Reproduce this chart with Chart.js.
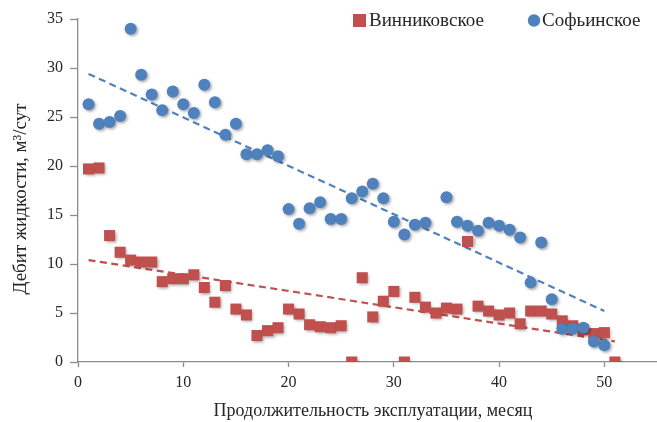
<!DOCTYPE html>
<html>
<head>
<meta charset="utf-8">
<script src="https://cdn.jsdelivr.net/npm/chart.js@4/dist/chart.umd.min.js"></script>
<style>
  html, body { margin: 0; padding: 0; background: #fff; }
  #wrap { width: 657px; height: 422px; }
</style>
</head>
<body>
<div id="wrap"><canvas id="c" width="657" height="422"></canvas></div>
<script>
// Месяцы эксплуатации и дебит жидкости, м³/сут
const vinnMonths = [1,2,3,4,5,6,7,8,9,10,11,12,13,14,15,16,17,18,19,20,21,22,23,24,25,26,27,28,29,30,31,32,33,34,35,36,37,38,39,40,41,42,43,44,45,46,47,48,49,50,51];
const vinnRates  = [19.7,19.8,12.9,11.2,10.4,10.2,10.2,8.2,8.5,8.5,8.9,7.6,6.1,7.8,5.4,4.8,2.7,3.2,3.5,5.4,4.9,3.8,3.6,3.5,3.7,0,8.6,4.6,6.2,7.2,0,6.6,5.6,5.0,5.5,5.4,12.3,5.7,5.2,4.8,5.0,3.9,5.2,5.2,4.9,4.2,3.7,3.3,2.9,3.0,0];

const sofMonths = [1,2,3,4,5,6,7,8,9,10,11,12,13,14,15,16,17,18,19,20,21,22,23,24,25,26,27,28,29,30,31,32,33,35,36,37,38,39,40,41,42,43,44,45,46,47,48,49,50];
const sofRates  = [26.3,24.3,24.5,25.1,34.0,29.3,27.3,25.7,27.6,26.3,25.4,28.3,26.5,23.2,24.3,21.2,21.2,21.6,21.0,15.6,14.1,15.7,16.3,14.6,14.6,16.7,17.4,18.2,16.7,14.3,13.0,14.0,14.2,16.8,14.3,13.9,13.4,14.2,13.9,13.5,12.7,8.1,12.2,6.4,3.4,3.4,3.5,2.1,1.7];

// Линейные тренды: начальная и конечная точки
const vinnTrendMonths = [1, 51];
const vinnTrendRates  = [10.4, 2.1];
const sofTrendMonths  = [1, 50];
const sofTrendRates   = [29.4, 5.2];

const xTicks = [0, 10, 20, 30, 40, 50];
const seriesNames = ['Винниковское', 'Софьинское'];
const xTitle = 'Продолжительность эксплуатации, месяц';
const yTitle = 'Дебит жидкости, м³/сут';

const RED = '#C0504D';
const BLUE = '#4F81BD';
const TEXT = '#262626';
const AXIS = '#8C8C8C';
const SERIF = '"Liberation Serif", "Times New Roman", serif';

const pts = (xs, ys) => xs.map((x, i) => ({ x, y: ys[i] }));

// Мягкая тень под маркерами
const markerShadow = {
  id: 'markerShadow',
  beforeDatasetDraw(chart, args) {
    const ds = chart.data.datasets[args.index];
    if (!ds.shadow) return;
    const ctx = chart.ctx;
    ctx.save();
    ctx.shadowColor = 'rgba(0,0,0,0.35)';
    ctx.shadowBlur = 3;
    ctx.shadowOffsetX = 1.5;
    ctx.shadowOffsetY = 1.5;
  },
  afterDatasetDraw(chart, args) {
    const ds = chart.data.datasets[args.index];
    if (!ds.shadow) return;
    chart.ctx.restore();
  }
};

// Легенда и подписи осей
const decorations = {
  id: 'decorations',
  afterDraw(chart) {
    const ctx = chart.ctx;
    ctx.save();
    ctx.fillStyle = TEXT;
    ctx.font = '19px ' + SERIF;
    ctx.textBaseline = 'middle';
    ctx.textAlign = 'left';

    // легенда
    ctx.fillStyle = RED;
    ctx.fillRect(353, 14, 13, 13);
    ctx.fillStyle = TEXT;
    ctx.fillText(seriesNames[0], 369, 21);
    ctx.fillStyle = BLUE;
    ctx.beginPath();
    ctx.arc(534, 20.5, 6.2, 0, Math.PI * 2);
    ctx.fill();
    ctx.fillStyle = TEXT;
    ctx.fillText(seriesNames[1], 542, 21);

    // подпись оси X
    ctx.font = '18px ' + SERIF;
    ctx.textAlign = 'center';
    ctx.fillText(xTitle, 373, 411);

    // подпись оси Y
    ctx.font = '19px ' + SERIF;
    ctx.translate(21, 199);
    ctx.rotate(-Math.PI / 2);
    ctx.fillText(yTitle, 0, 0);
    ctx.restore();
  }
};

new Chart(document.getElementById('c'), {
  type: 'scatter',
  data: {
    datasets: [
      {
        label: seriesNames[1],
        data: pts(sofMonths, sofRates),
        backgroundColor: BLUE,
        borderColor: BLUE,
        borderWidth: 0,
        pointStyle: 'circle',
        pointRadius: 6,
        pointHoverRadius: 6,
        shadow: true,
        order: 0
      },
      {
        label: seriesNames[0],
        data: pts(vinnMonths, vinnRates),
        backgroundColor: RED,
        borderColor: RED,
        borderWidth: 0,
        pointStyle: 'rect',
        pointRadius: 7.8,
        pointHoverRadius: 7.8,
        shadow: true,
        order: 1
      },
      {
        type: 'line',
        data: pts(sofTrendMonths, sofTrendRates),
        borderColor: BLUE,
        borderWidth: 2.2,
        borderDash: [7, 4.5],
        pointRadius: 0,
        fill: false,
        order: 2
      },
      {
        type: 'line',
        data: pts(vinnTrendMonths, vinnTrendRates),
        borderColor: RED,
        borderWidth: 2.2,
        borderDash: [7, 4.5],
        pointRadius: 0,
        fill: false,
        order: 3
      }
    ]
  },
  options: {
    responsive: false,
    animation: false,
    devicePixelRatio: 1,
    layout: { autoPadding: false, padding: { top: 19, right: 0, left: 0, bottom: 0 } },
    plugins: {
      legend: { display: false },
      tooltip: { enabled: false }
    },
    scales: {
      x: {
        type: 'linear',
        min: 0,
        max: 55,
        afterBuildTicks(scale) {
          scale.ticks = xTicks.map(v => ({ value: v }));
        },
        afterFit(scale) {
          scale.height = 60;
          scale.paddingLeft = 0;
          scale.paddingRight = 0;
        },
        border: { display: true, color: AXIS, width: 1.3 },
        grid: { display: true, drawOnChartArea: false, drawTicks: true, tickLength: 5, tickColor: AXIS, tickWidth: 1.3 },
        ticks: {
          color: TEXT,
          font: { family: SERIF, size: 16 },
          padding: 6,
          maxRotation: 0,
          autoSkip: false
        }
      },
      y: {
        type: 'linear',
        min: 0,
        max: 35,
        afterFit(scale) {
          scale.width = 78;
          scale.paddingTop = 0;
          scale.paddingBottom = 0;
        },
        border: { display: true, color: AXIS, width: 1.3 },
        grid: { display: true, drawOnChartArea: false, drawTicks: true, tickLength: 8, tickColor: AXIS, tickWidth: 1.3 },
        ticks: {
          stepSize: 5,
          color: TEXT,
          font: { family: SERIF, size: 16 },
          padding: 7
        }
      }
    }
  },
  plugins: [markerShadow, decorations]
});
</script>
</body>
</html>
